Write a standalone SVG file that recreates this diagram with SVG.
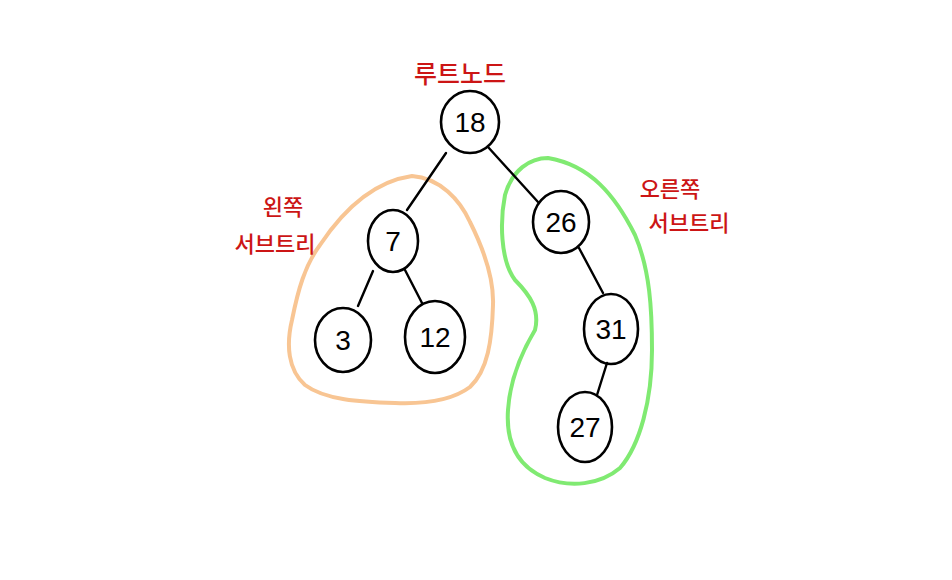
<svg xmlns="http://www.w3.org/2000/svg" width="952" height="580" viewBox="0 0 952 580">
<style>
.node{fill:none;stroke:#000;stroke-width:2.6}
.num{font-family:"Liberation Sans","DejaVu Sans",sans-serif;font-size:28px;fill:#000;text-anchor:middle}
.edge{stroke:#000;stroke-width:2.4;fill:none;stroke-linecap:round}
.lbl{font-family:"Noto Sans CJK KR","Noto Sans",sans-serif;font-size:22px;font-weight:500;fill:#CC1515;text-anchor:middle}
.blob{fill:none;stroke-width:4;stroke-linejoin:round}
</style>
<rect width="952" height="580" fill="#fff"/>
<g id="left-subtree-outline">
<path class="blob" stroke="#F8C593" d="M 412,176 C 440,178 460,200 470,222 C 485,252 494,280 493,305 C 492,340 488,370 470,387 C 450,402 420,404 395,403 C 360,402 325,400 305,385 C 288,370 286,345 292,320 C 298,290 305,265 320,245 C 340,215 370,182 412,176 Z"/>
</g>
<g id="right-subtree-outline">
<path class="blob" stroke="#80EA72" d="M 548,158 C 590,165 615,195 635,235 C 650,270 652,310 652,350 C 652,400 640,445 620,468 C 600,485 570,488 545,478 C 515,465 506,440 508,410 C 510,380 520,355 535,330 C 540,310 530,295 515,280 C 500,260 500,220 505,195 C 512,170 530,158 548,158 Z"/>
</g>
<g id="connectors">
<line class="edge" x1="446" y1="153" x2="407" y2="210"/>
<line class="edge" x1="488" y1="147" x2="538" y2="202"/>
<line class="edge" x1="373" y1="271" x2="358" y2="306"/>
<line class="edge" x1="405" y1="270" x2="422" y2="303"/>
<line class="edge" x1="579" y1="248" x2="603" y2="293"/>
<line class="edge" x1="607" y1="363" x2="597" y2="395"/>
</g>
<g id="node-18"><ellipse class="node" cx="470" cy="122" rx="29" ry="31"/><text class="num" x="470" y="132">18</text></g>
<g id="node-7"><ellipse class="node" cx="393" cy="241" rx="25" ry="31"/><text class="num" x="393" y="251">7</text></g>
<g id="node-26"><ellipse class="node" cx="561" cy="222" rx="28" ry="31"/><text class="num" x="561" y="232">26</text></g>
<g id="node-3"><ellipse class="node" cx="343" cy="340" rx="28" ry="32"/><text class="num" x="343" y="350">3</text></g>
<g id="node-12"><ellipse class="node" cx="435" cy="337" rx="30" ry="36"/><text class="num" x="435" y="347">12</text></g>
<g id="node-31"><ellipse class="node" cx="611" cy="329" rx="27" ry="35"/><text class="num" x="611" y="339">31</text></g>
<g id="node-27"><ellipse class="node" cx="585" cy="427" rx="27" ry="35"/><text class="num" x="585" y="437">27</text></g>
<g id="labels">
<text class="lbl" x="460" y="83" style="font-size:25px">루트노드</text>
<text class="lbl" x="283" y="215">왼쪽</text>
<text class="lbl" x="275" y="252">서브트리</text>
<text class="lbl" x="670" y="197">오른쪽</text>
<text class="lbl" x="689" y="231">서브트리</text>
</g>
</svg>
